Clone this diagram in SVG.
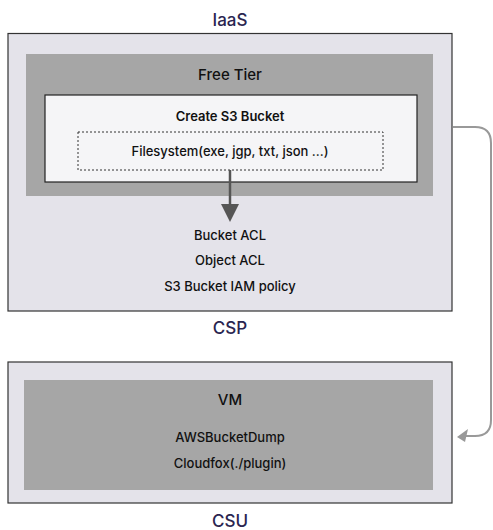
<svg xmlns="http://www.w3.org/2000/svg" width="493" height="530" viewBox="0 0 493 530">
<style>
text{font-family:Inter,"Noto Sans",sans-serif;text-anchor:middle;fill:#111;font-weight:500}
.lbl{font-size:17px;fill:#2a2550}
.outer{fill:#e4e3ea;stroke:#333;stroke-width:1.2}
.gray{fill:#a6a6a6}
.t{font-size:13px}
.b{font-weight:600}
.h{font-size:15px}
</style>
<g id="csp">
<text class="lbl" x="230" y="26">IaaS</text>
<rect class="outer" x="8" y="33.5" width="444" height="277.5"/>
<text class="lbl" x="230" y="334">CSP</text>
</g>
<g id="freetier">
<rect class="gray" x="26" y="54" width="407" height="142"/>
<text class="h" x="230" y="80">Free Tier</text>
</g>
<g id="s3bucket">
<rect x="45" y="95" width="372" height="87" fill="#f5f5f7" stroke="#222" stroke-width="1.2"/>
<text class="t b" x="230" y="121">Create S3 Bucket</text>
</g>
<g id="filesystem">
<rect x="78" y="132" width="305" height="38" fill="#f5f5f7" stroke="#333" stroke-width="1" stroke-dasharray="2,2"/>
<text class="t" x="230" y="156">Filesystem(exe, jgp, txt, json ...)</text>
</g>
<g id="acl">
<text class="t" x="230" y="240">Bucket ACL</text>
<text class="t" x="230" y="265">Object ACL</text>
<text class="t" x="230" y="291">S3 Bucket IAM policy</text>
</g>
<g id="csu">
<rect class="outer" x="8" y="362" width="444" height="141"/>
<text class="lbl" x="230" y="527">CSU</text>
</g>
<g id="vm">
<rect class="gray" x="24" y="380" width="409" height="110"/>
<text class="h" x="230" y="405">VM</text>
<text class="t" x="230" y="442">AWSBucketDump</text>
<text class="t" x="230" y="468">Cloudfox(./plugin)</text>
</g>
<g id="connectors">
<line x1="230" y1="170" x2="230" y2="206" stroke="#555" stroke-width="2.5"/>
<path d="M221,204 L239,204 L230,222 z" fill="#555"/>
<path d="M453,127 L475,127 Q491,127 491,143 L491,420 Q491,436 475,436 L466,436" fill="none" stroke="#999" stroke-width="2"/>
<path d="M457,437 L468,429 L465,442 z" fill="#999"/>
</g>
</svg>
